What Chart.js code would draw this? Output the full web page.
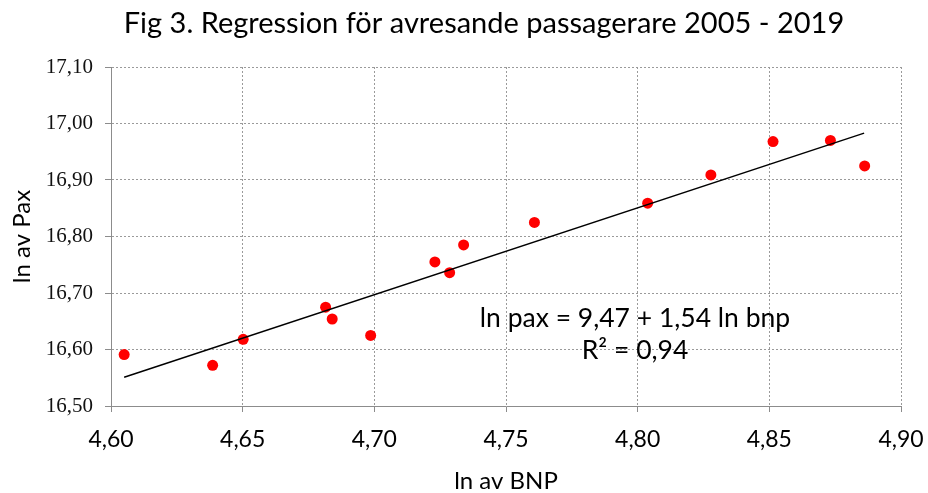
<!DOCTYPE html>
<html lang="sv">
<head>
  <meta charset="UTF-8">
  <script src="https://cdn.jsdelivr.net/npm/chart.js"></script>
  <title>Fig 3</title>
</head>
<style>
  body{
    margin: 0;
    background: #fff;
  }
  .wrap{
    width: 928px;
    height: 493px;
  }
</style>
<body>
  <div class="wrap">
    <canvas id="scatter" width="928" height="493"></canvas>
  </div>
  <script>
    // data (ln BNP vs ln pax, 2005-2019)
    const lnBnp = [4.605, 4.6386, 4.6502, 4.6815, 4.684, 4.6986, 4.723, 4.7286, 4.7339, 4.7608, 4.8038, 4.8278, 4.8514, 4.8732, 4.8862];
    const lnPax = [16.591, 16.572, 16.618, 16.675, 16.654, 16.625, 16.755, 16.736, 16.785, 16.825, 16.859, 16.909, 16.968, 16.970, 16.925];
    // trend line ends
    const trendX = [4.605, 4.886];
    const trendY = [16.551, 16.983];

    const titleText = 'Fig 3. Regression för avresande passagerare 2005 - 2019';
    const xTitle = 'ln av BNP';
    const yTitle = 'ln av Pax';
    const eqLines = ['ln pax = 9,47 + 1,54 ln bnp', 'R² = 0,94'];

    const sans = 'Lato';
    const comma = v => v.toFixed(2).replace('.', ',');

    // title, x title and the regression text
    const textPlugin = {
      id: 'texts',
      afterDraw(chart) {
        const ctx = chart.ctx;
        ctx.save();
        ctx.fillStyle = '#000';
        ctx.textAlign = 'center';
        ctx.textBaseline = 'middle';
        ctx.font = '29px ' + sans;
        ctx.fillText(titleText, 484, 24);
        ctx.font = '24px ' + sans;
        ctx.fillText(xTitle, 506, 481);
        ctx.font = '26.5px ' + sans;
        ctx.fillText(eqLines[0], 635, 318);
        ctx.fillText(eqLines[1], 635, 350);
        ctx.restore();
      }
    };

    const points = lnBnp.map((x, i) => ({x: x, y: lnPax[i]}));
    const trend = trendX.map((x, i) => ({x: x, y: trendY[i]}));

    new Chart(document.getElementById('scatter'), {
      type: 'scatter',
      data: {
        datasets: [{
          type: 'line',
          data: trend,
          borderColor: '#000',
          borderWidth: 1.5,
          pointRadius: 0,
          fill: false
        }, {
          data: points,
          backgroundColor: '#ff0000',
          borderColor: '#ff0000',
          borderWidth: 0,
          pointRadius: 5.5
        }]
      },
      options: {
        responsive: false,
        animation: false,
        layout: {padding: {top: 67, right: 27, left: 0, bottom: 0}},
        plugins: {
          legend: {display: false},
          tooltip: {enabled: false}
        },
        scales: {
          x: {
            type: 'linear',
            min: 4.6,
            max: 4.9,
            afterFit: s => { s.height = 87; s.paddingLeft = 0; s.paddingRight = 0; },
            ticks: {
              stepSize: 0.05,
              padding: 14,
              color: '#000',
              font: {family: sans, size: 23},
              callback: v => comma(v)
            },
            grid: {color: '#9a9a9a', tickColor: '#8c8c8c', tickLength: 6},
            border: {color: '#8c8c8c', width: 1, dash: [2, 2]}
          },
          y: {
            min: 16.5,
            max: 17.1,
            afterFit: s => { s.width = 111; s.paddingTop = 0; s.paddingBottom = 0; },
            ticks: {
              stepSize: 0.1,
              padding: 12,
              color: '#111',
              font: {family: 'Liberation Serif', size: 21},
              callback: v => comma(v)
            },
            title: {
              display: true,
              text: yTitle,
              color: '#000',
              font: {family: sans, size: 24},
              padding: {top: 8, bottom: 0}
            },
            grid: {color: '#9a9a9a', tickColor: '#8c8c8c', tickLength: 6},
            border: {color: '#8c8c8c', width: 1, dash: [2, 2]}
          }
        }
      },
      plugins: [textPlugin]
    });
  </script>
</body>
</html>
